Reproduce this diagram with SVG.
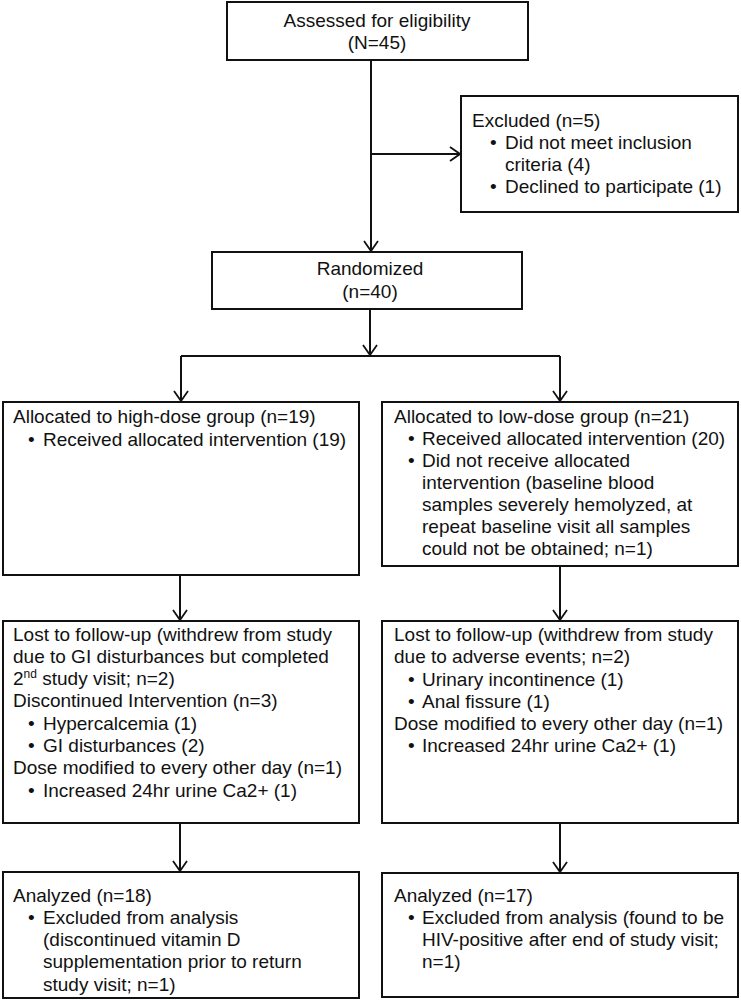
<svg xmlns="http://www.w3.org/2000/svg" width="741" height="1000" viewBox="0 0 741 1000">
<defs>
<marker id="arr" viewBox="0 0 12 16" refX="11" refY="8" markerWidth="12" markerHeight="16" markerUnits="userSpaceOnUse" orient="auto">
<polyline points="1,1 11,8 1,15" fill="none" stroke="#111" stroke-width="1.8"/>
</marker>
<style>
.box{fill:#fff;stroke:#111;stroke-width:2}
.t{font-family:"Liberation Sans",Arial,sans-serif;font-size:19px;fill:#111}
.c{text-anchor:middle}
.ln{fill:none;stroke:#111;stroke-width:2}
.a{marker-end:url(#arr)}
</style>
</defs>
<rect width="741" height="1000" fill="#fff"/>
<g id="connectors">
<line class="ln a" x1="371" y1="60" x2="371" y2="251"/>
<line class="ln a" x1="371" y1="154" x2="460" y2="154"/>
<line class="ln a" x1="370" y1="309" x2="370" y2="355"/>
<polyline class="ln" points="181,356 560,356"/>
<line class="ln a" x1="181" y1="356" x2="181" y2="401"/>
<line class="ln a" x1="560" y1="356" x2="560" y2="401"/>
<line class="ln a" x1="180" y1="575" x2="180" y2="620"/>
<line class="ln a" x1="560" y1="566" x2="560" y2="620"/>
<line class="ln a" x1="180" y1="823" x2="180" y2="871"/>
<line class="ln a" x1="560" y1="823" x2="560" y2="872"/>
</g>
<g id="assessed">
<rect class="box" x="227" y="2" width="301" height="58"/>
<text class="t c" x="377" y="27">Assessed for eligibility</text>
<text class="t c" x="377" y="49">(N=45)</text>
</g>
<g id="excluded">
<rect class="box" x="461" y="96" width="277" height="116"/>
<text class="t" x="472" y="127">Excluded (n=5)</text>
<text class="t" x="490" y="149">•</text>
<text class="t" x="505" y="149">Did not meet inclusion</text>
<text class="t" x="505" y="171">criteria (4)</text>
<text class="t" x="490" y="193">•</text>
<text class="t" x="505" y="193">Declined to participate (1)</text>
</g>
<g id="randomized">
<rect class="box" x="212" y="252" width="310" height="57"/>
<text class="t c" x="370" y="275">Randomized</text>
<text class="t c" x="370" y="298">(n=40)</text>
</g>
<g id="alloc-high">
<rect class="box" x="3" y="402" width="356" height="173"/>
<text class="t" x="13" y="423">Allocated to high-dose group (n=19)</text>
<text class="t" x="28" y="446">•</text>
<text class="t" x="43" y="446">Received allocated intervention (19)</text>
</g>
<g id="alloc-low">
<rect class="box" x="382" y="402" width="356" height="164"/>
<text class="t" x="394" y="423">Allocated to low-dose group (n=21)</text>
<text class="t" x="408" y="445">•</text>
<text class="t" x="422" y="445">Received allocated intervention (20)</text>
<text class="t" x="408" y="467">•</text>
<text class="t" x="422" y="467">Did not receive allocated</text>
<text class="t" x="422" y="489">intervention (baseline blood</text>
<text class="t" x="422" y="511">samples severely hemolyzed, at</text>
<text class="t" x="422" y="533">repeat baseline visit all samples</text>
<text class="t" x="422" y="555">could not be obtained; n=1)</text>
</g>
<g id="followup-high">
<rect class="box" x="3" y="621" width="356" height="202"/>
<text class="t" x="13" y="641">Lost to follow-up (withdrew from study</text>
<text class="t" x="13" y="663">due to GI disturbances but completed</text>
<text class="t" x="13" y="685">2<tspan font-size="12" dy="-7">nd</tspan><tspan dy="7"> study visit; n=2)</tspan></text>
<text class="t" x="13" y="707">Discontinued Intervention (n=3)</text>
<text class="t" x="28" y="730">•</text>
<text class="t" x="43" y="730">Hypercalcemia (1)</text>
<text class="t" x="28" y="752">•</text>
<text class="t" x="43" y="752">GI disturbances (2)</text>
<text class="t" x="13" y="774">Dose modified to every other day (n=1)</text>
<text class="t" x="28" y="797">•</text>
<text class="t" x="43" y="797">Increased 24hr urine Ca2+ (1)</text>
</g>
<g id="followup-low">
<rect class="box" x="382" y="621" width="356" height="202"/>
<text class="t" x="394" y="641">Lost to follow-up (withdrew from study</text>
<text class="t" x="394" y="663">due to adverse events; n=2)</text>
<text class="t" x="408" y="686">•</text>
<text class="t" x="422" y="686">Urinary incontinence (1)</text>
<text class="t" x="408" y="708">•</text>
<text class="t" x="422" y="708">Anal fissure (1)</text>
<text class="t" x="394" y="730">Dose modified to every other day (n=1)</text>
<text class="t" x="408" y="752">•</text>
<text class="t" x="422" y="752">Increased 24hr urine Ca2+ (1)</text>
</g>
<g id="analyzed-high">
<rect class="box" x="3" y="872" width="356" height="126"/>
<text class="t" x="13" y="902">Analyzed (n=18)</text>
<text class="t" x="28" y="924">•</text>
<text class="t" x="43" y="924">Excluded from analysis</text>
<text class="t" x="43" y="946">(discontinued vitamin D</text>
<text class="t" x="43" y="968">supplementation prior to return</text>
<text class="t" x="43" y="991">study visit; n=1)</text>
</g>
<g id="analyzed-low">
<rect class="box" x="382" y="873" width="356" height="124"/>
<text class="t" x="394" y="902">Analyzed (n=17)</text>
<text class="t" x="408" y="924">•</text>
<text class="t" x="422" y="924">Excluded from analysis (found to be</text>
<text class="t" x="422" y="946">HIV-positive after end of study visit;</text>
<text class="t" x="422" y="968">n=1)</text>
</g>
</svg>
